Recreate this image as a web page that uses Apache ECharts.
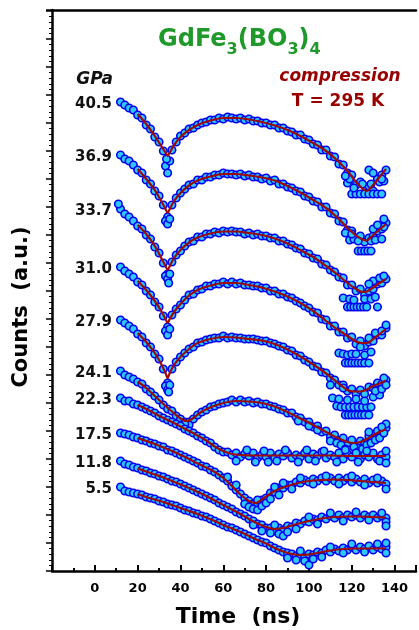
<!DOCTYPE html>
<html><head><meta charset="utf-8">
<script src="https://cdn.jsdelivr.net/npm/echarts@6/dist/echarts.min.js"></script>
<style>html,body{margin:0;padding:0;background:#fff}#chart{width:419px;height:630px}</style>
</head><body><div id="chart"></div>
<script>
const FONT = 'DejaVu Sans';
const pressures = ['40.5','36.9','33.7','31.0','27.9','24.1','22.3','17.5','11.8','5.5'];
const xTickLabels = [0,20,40,60,80,100,120,140];
const scatterTimes = [12,14,16,18,20,22,24,26,28,30,32,34,36,38,40,42,44,46,48,50,52,54,56,58,60,62,64,66,68,70,72,74,76,78,80,82,84,86,88,90,92,94,96,98,100,102,104,106,108,110,112,114,116,118,120,122,124,126,128,130,132,134,136];

const counts405 = [469,466,463,461,456,453,446,442,434,429,420,410,421,429,435,438,442,443,446,448,449,451,451,453,452,454,453,452,453,451,452,450,450,448,448,446,446,443,443,440,439,436,436,432,431,427,426,421,421,415,414,407,406,398,396,386,389,378,385,380,392,396,401];
const counts369 = [416,412,410,406,401,398,391,387,380,375,366,354,366,373,378,382,386,387,391,391,394,394,396,396,398,397,397,396,397,395,396,394,394,392,393,390,391,387,387,384,383,380,379,375,374,370,369,364,364,358,357,350,349,341,340,333,335,329,333,335,340,342,348];
const counts337 = [362,357,354,350,345,342,336,332,324,318,308,297,309,316,320,325,329,330,334,334,337,337,339,338,340,339,340,339,339,337,338,336,337,335,335,333,333,330,330,327,326,323,322,318,317,313,312,307,306,301,299,294,293,286,286,280,282,276,280,282,287,288,292];
const counts310 = [304,300,297,294,289,286,280,276,269,264,255,244,256,262,266,271,276,277,281,282,285,285,287,287,289,287,289,287,288,286,286,285,285,283,283,280,280,277,277,274,273,270,268,265,263,259,258,252,251,245,245,239,239,233,234,227,230,225,229,230,236,236,243];
const counts279 = [251,248,245,242,237,234,228,224,217,212,202,188,202,209,214,218,222,224,228,229,231,232,233,233,235,233,234,233,233,232,232,232,231,230,230,228,227,225,224,221,220,216,215,211,209,205,204,199,198,193,191,186,186,180,182,177,181,177,184,183,188,187,191];
const counts241 = [200,196,194,192,189,187,182,179,175,171,166,162,160,155,152,149,149,152,156,159,161,164,165,167,168,169,171,169,171,169,170,168,169,167,167,165,164,162,161,158,158,154,153,149,149,144,145,139,140,134,136,130,133,126,131,125,130,128,135,133,140,137,143];
const counts223 = [173,170,170,167,166,164,162,160,158,155,153,151,149,147,145,142,140,138,135,133,130,128,124,121,119,119,116,118,114,117,115,118,113,116,114,118,113,117,115,118,113,116,114,118,112,117,115,119,113,116,114,118,112,117,114,118,112,116,114,118,112,116,114];
const counts175 = [138,137,136,134,133,131,130,128,127,125,124,121,120,118,116,114,112,110,108,105,104,101,99,96,93,90,85,81,77,73,70,67,66,71,73,78,79,83,83,86,86,89,88,91,89,92,90,93,90,93,90,93,90,93,89,92,89,92,88,91,88,90,87];
const counts118 = [110,107,106,104,103,101,100,98,97,95,94,92,90,89,87,85,83,81,79,77,75,73,71,68,66,64,62,59,57,55,52,50,47,46,43,43,40,43,41,45,44,48,47,50,49,52,51,54,52,55,53,56,53,56,54,56,53,56,54,56,53,55,53];
const counts55 = [84,80,79,78,77,76,74,73,72,70,69,67,66,65,63,61,60,58,57,55,54,52,50,48,46,44,43,41,39,37,35,33,31,29,28,25,23,21,19,18,17,15,16,14,17,16,19,18,21,19,22,20,23,21,24,21,24,22,25,21,24,22,24];

const extra405 = [[33,405],[34,398],[35,410],[33.5,412],[120,377],[122,377],[124,377],[126,377],[128,377],[130,377],[132,377],[134,377],[118,388],[121,383],[125,387],[129,387],[133,389],[135,390],[128,401],[130,398],[134,392],[119,392],[117,395]];
const extra369 = [[33,350],[34,347],[35,352],[119,331],[121,332],[123,330],[129,330],[131,331],[134,332],[123,320],[124.5,320],[126,320],[127.5,320],[129,320],[117,338],[120,337],[130,342],[135,344],[132,346],[135,352]];
const extra337 = [[11,367],[33,295],[34,292],[35,297],[34.5,288],[118,264],[119.5,264],[121,264],[122.5,264],[124,264],[125.5,264],[127,264],[132,264],[116,273],[119,272],[121,271],[126,272],[129,272],[131,274],[130,290],[133,293],[135,295],[128,287]];
const extra310 = [[33,240],[34,236],[35,242],[117,208],[118.5,208],[120,208],[121.5,208],[123,208],[124.5,208],[126,208],[128,208],[114,218],[116,217],[118,216],[120,217],[122,217],[126,216],[129,219],[128,233],[131,238],[134,240],[136,246],[124,224]];
const extra279 = [[33,185],[34,181],[35,186],[34.5,179],[117,156],[118.5,156],[120,156],[121.5,156],[123,156],[124.5,156],[126,156],[128,156],[113,165],[115,164],[117,164],[119,164],[121,164],[123,164],[125,164],[127,164],[129,164],[111,173],[114,172],[118,171],[122,172],[126,170],[130,174],[133,176],[110,186],[116,183],[131,180],[134,182],[136,186],[135,193]];
const extra241 = [[44,146],[42,147],[95,150],[100,145],[104,141],[110,130],[113,128],[115,126],[117,122],[119,121],[121,124],[123,119],[125,122],[127,126],[129,128],[131,131],[133,133],[135,138],[136,147],[134,144],[128,139]];
const extra223 = [[66,110],[71,121],[75,109],[79,120],[81,109],[85,110],[89,121],[95,109],[99,121],[103,110],[107,120],[113,109],[117,121],[123,109],[127,120],[133,110],[136,120],[136,108]];
const extra175 = [[62,94],[66,86],[70,67],[72,64],[74,62],[76,61],[78,65],[80,68],[82,72],[76,71],[86,76],[84,84],[88,88],[92,82],[96,93],[102,87],[108,95],[114,87],[120,95],[126,86],[132,93],[136,82]];
const extra118 = [[74,46],[78,40],[82,38],[86,37],[88,35],[90,39],[84,46],[94,42],[100,54],[104,47],[110,58],[116,50],[122,59],[128,51],[134,58],[136,49],[136,45]];
const extra55 = [[90,13],[94,11],[98,10],[100,6],[102,12],[96,20],[106,14],[110,24],[116,18],[120,27],[126,19],[132,27],[136,18],[136,28]];

const fit405 = [[20,457],[24,447],[28,435],[31,425],[33,418.5],[34,415],[35,418.5],[37,426],[40,434],[44,441],[48,446],[54,450.5],[60,453],[66,453],[72,451.5],[78,449],[84,445.5],[90,441],[96,435],[102,428],[108,420],[113,411],[118,400],[122,389],[125,382.5],[127,380],[130,386],[133,394],[136,402]];
const fit369 = [[20,402],[24,392],[28,381],[31,370],[33,362],[34,358],[35,362],[37,370],[40,378],[44,385.5],[48,390.5],[54,394.5],[60,397],[66,397],[72,395.5],[78,393.5],[84,390.5],[90,385],[96,378.5],[102,371],[108,363],[113,354],[118,343],[122,335.5],[125,331.5],[127,330.5],[130,336],[133,341.5],[136,347]];
const fit337 = [[20,346],[24,337],[28,325],[31,313],[33,305],[34,301],[35,305],[37,313],[40,321],[44,328.5],[48,333.5],[54,337.5],[60,339.5],[66,339.5],[72,338],[78,336],[84,332.5],[90,327.5],[96,321],[102,314],[108,305],[113,297],[118,288],[122,282],[125,279],[127,279.5],[130,283.5],[133,288],[136,292]];
const fit310 = [[20,290],[24,281],[28,270],[31,260],[33,252],[34,248],[35,252],[37,259],[40,267],[44,275.5],[48,281],[54,285.5],[60,288],[66,288],[72,286],[78,283.5],[84,279.5],[90,274.5],[96,268],[102,260],[108,250],[113,242],[118,235],[122,229.5],[125,228],[127,228],[130,232],[133,237],[136,242]];
const fit279 = [[20,238],[24,229],[28,218],[31,207],[33,198],[34,193],[35,198],[37,206],[40,214],[44,222],[48,228],[54,232],[60,234],[66,233.5],[72,232],[78,230.5],[84,227],[90,221.5],[96,214.5],[102,206.5],[108,197.5],[113,189],[118,181],[121,179.5],[124,179.5],[127,181.5],[130,185],[133,187.5],[136,190.5]];
const fit241 = [[20,189.5],[24,183],[28,175],[32,167],[36,159.5],[40,152.5],[43,150],[46,153],[50,159.5],[55,164.5],[60,168],[66,170],[72,169.5],[78,168],[84,164.5],[90,159],[96,152.5],[102,146],[108,139],[113,133.5],[118,129],[121,128],[124,129],[127,132],[131,137],[136,142]];
const fit223 = [[20,166],[24,162],[28,157.5],[32,153],[36,149],[40,144.5],[44,140],[48,135.5],[52,130.5],[56,124.5],[60,120],[64,117],[68,116],[74,115.5],[80,115.5],[90,115.5],[100,115.5],[110,115.5],[120,115],[128,115],[136,115]];
const fit175 = [[20,133],[24,130],[28,127],[32,123.5],[36,120],[40,116],[44,112],[48,107.5],[52,103.5],[56,99],[60,93],[64,85],[68,76.5],[72,70],[75,68],[78,71.5],[82,77.5],[86,82],[90,85],[95,88],[100,90],[106,91],[112,91.5],[118,91],[124,90],[130,89],[136,88]];
const fit118 = [[20,102.5],[24,99.5],[28,96.5],[32,93.5],[36,90],[40,86.5],[44,83],[48,79],[52,75],[56,70.5],[60,66],[64,61.5],[68,57],[72,52],[76,47.5],[80,44],[84,42],[88,43],[92,45.5],[96,48],[100,50],[106,52.5],[112,54],[118,54.5],[124,54.5],[130,54],[136,53.5]];
const fit55 = [[20,77],[24,74],[28,71.5],[32,69],[36,66],[40,63],[44,60],[48,57],[52,53.5],[56,50],[60,46],[64,42.5],[68,39],[72,35],[76,31],[80,27.5],[84,23],[88,19.5],[92,17],[96,16],[100,16.5],[104,18],[110,20.5],[116,22],[122,22.5],[128,22.5],[136,22.5]];

const countsList = [counts405,counts369,counts337,counts310,counts279,counts241,counts223,counts175,counts118,counts55];
const extraList = [extra405,extra369,extra337,extra310,extra279,extra241,extra223,extra175,extra118,extra55];
const fitList = [fit405,fit369,fit337,fit310,fit279,fit241,fit223,fit175,fit118,fit55];

const chart = echarts.init(document.getElementById('chart'), null, {renderer:'canvas'});
const scatterSeries = countsList.map((vals, k) => {
  const data = scatterTimes.map((t, i) => i === 0 ? {
    value: [t, vals[i]],
    label: {show: true, formatter: pressures[k], position: 'left', distance: 4, offset: [0, 2],
      fontFamily: FONT, fontWeight: 'bold', fontSize: 15, color: '#111'}
  } : [t, vals[i]]);
  return {type: 'scatter', data: data.concat(extraList[k]), symbolSize: 7.5, silent: true, z: 2,
    itemStyle: {color: '#2ec8ff', borderColor: '#0000ee', borderWidth: 1.6, opacity: 1}};
});
const fitSeries = fitList.map(f => ({type: 'line', data: f, showSymbol: false, smooth: 0.25, silent: true, z: 3,
  lineStyle: {color: '#9e0a0a', width: 2.2}}));

const axisLineStyle = {color: '#000', width: 2.5};
chart.setOption({
  animation: false,
  backgroundColor: '#fff',
  grid: {left: 52, top: 10, width: 368.4, height: 561},
  title: {
    text: '{a|GdFe}{s|3}{a|(BO}{s|3}{a|)}{s|4}', left: 158, top: 28, padding: 0,
    textStyle: {rich: {
      a: {fontFamily: FONT, fontWeight: 'bold', fontSize: 24, color: '#1f9a2a', lineHeight: 26, verticalAlign: 'top'},
      s: {fontFamily: FONT, fontWeight: 'bold', fontSize: 16, color: '#1f9a2a', lineHeight: 16, verticalAlign: 'top', padding: [14, 0, 0, 0]}
    }}
  },
  xAxis: [{
    type: 'value', min: -20, max: 150, interval: 20,
    axisLine: {onZero: false, lineStyle: axisLineStyle},
    axisTick: {inside: true, length: 6, lineStyle: {color: '#000', width: 2}},
    minorTick: {show: true, splitNumber: 2, length: 3, lineStyle: {color: '#000', width: 2}},
    axisLabel: {formatter: v => xTickLabels.indexOf(v) >= 0 ? String(v) : '', fontFamily: FONT, fontWeight: 'bold', fontSize: 13, color: '#000', margin: 11},
    splitLine: {show: false}
  }, {
    type: 'value', position: 'top', min: -20, max: 150,
    axisLine: {show: true, onZero: false, lineStyle: axisLineStyle},
    axisTick: {show: false}, axisLabel: {show: false}, splitLine: {show: false}
  }],
  yAxis: {
    type: 'value', min: 0, max: 561, interval: 28, position: 'left',
    axisLine: {show: true, onZero: false, lineStyle: axisLineStyle},
    axisTick: {show: true, inside: false, length: 6, lineStyle: {color: '#000', width: 1.5}},
    minorTick: {show: true, splitNumber: 5, length: 3, lineStyle: {color: '#000', width: 1}},
    axisLabel: {show: false}, splitLine: {show: false}
  },
  graphic: [
    {type: 'text', x: 113, y: 80, style: {text: 'GPa', font: 'italic bold 17px "DejaVu Sans"', fill: '#111', align: 'right', verticalAlign: 'middle', textAlign: 'right', textVerticalAlign: 'middle'}},
    {type: 'text', x: 340, y: 77, style: {text: 'compression', font: 'italic bold 17px "DejaVu Sans"', fill: '#990000', align: 'center', verticalAlign: 'middle', textAlign: 'center', textVerticalAlign: 'middle'}},
    {type: 'text', x: 338, y: 102, style: {text: 'T = 295 K', font: 'bold 17px "DejaVu Sans"', fill: '#990000', align: 'center', verticalAlign: 'middle', textAlign: 'center', textVerticalAlign: 'middle'}},
    {type: 'text', x: 238, y: 617, style: {text: 'Time  (ns)', font: 'bold 22px "DejaVu Sans"', fill: '#000', align: 'center', verticalAlign: 'middle', textAlign: 'center', textVerticalAlign: 'middle'}},
    {type: 'text', x: 22, y: 307, rotation: Math.PI / 2, style: {text: 'Counts  (a.u.)', font: 'bold 21px "DejaVu Sans"', fill: '#000', align: 'center', verticalAlign: 'middle', textAlign: 'center', textVerticalAlign: 'middle'}}
  ],
  series: scatterSeries.concat(fitSeries)
});
</script></body></html>
